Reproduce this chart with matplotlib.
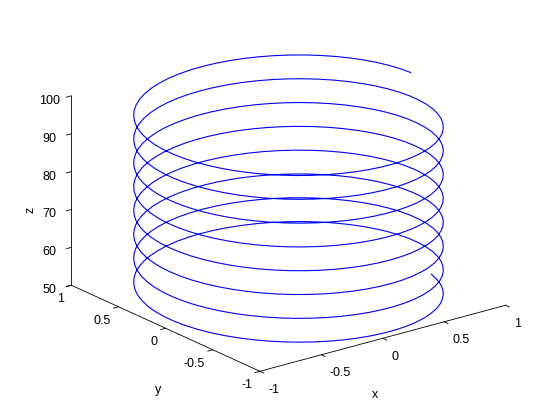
import numpy as np
import matplotlib
matplotlib.use('Agg')
from matplotlib import pyplot as plt

# helix: z runs 50 -> 100, one turn every 2*pi, turning clockwise
z_start, z_end = 50, 100
phase = -0.26  # start angle in rad
z = np.arange(z_start, z_end + 0.001, 0.1)
theta = phase - (z - z_start)
x = np.cos(theta)
y = np.sin(theta)

xticks = [-1, -0.5, 0, 0.5, 1]
yticks = [-1, -0.5, 0, 0.5, 1]
zticks = [50, 60, 70, 80, 90, 100]
tick_text = ['-1', '-0.5', '0', '0.5', '1']

plt.rcParams['font.family'] = 'Liberation Sans'
plt.rcParams['font.size'] = 9

fig = plt.figure(figsize=(5.6, 4.2), dpi=100)
ax = fig.add_axes([0.005, 0.009, 1.0, 1.0], projection='3d')
ax.set_proj_type('ortho')
ax.view_init(elev=20.5, azim=-127.5)
ax.set_box_aspect((1, 1, 0.653), zoom=1.115)

ax.plot(x, y, z, color='#0000ff', lw=0.8)

ax.set_xlim(-1, 1)
ax.set_ylim(-1, 1)
ax.set_zlim(50, 100)
ax.set_xticks(xticks)
ax.set_yticks(yticks)
ax.set_zticks(zticks)
ax.set_xticklabels(tick_text, ha='left')
ax.set_yticklabels(tick_text, ha='right')
ax.grid(False)
for axis in (ax.xaxis, ax.yaxis, ax.zaxis):
    axis.pane.fill = False
    axis.pane.set_edgecolor('w')
    axis.line.set_color('k')
    axis.line.set_linewidth(0.6)
    axis._axinfo['tick']['inward_factor'] = 0.25
    axis._axinfo['tick']['outward_factor'] = 0.0
    axis._axinfo['tick']['linewidth'] = {True: 0.6, False: 0.5}
ax.tick_params(axis='x', pad=-1)
ax.tick_params(axis='y', pad=-3)
ax.tick_params(axis='z', pad=0)

# axis titles placed where MATLAB puts them
fig.text(0.670, 0.060, 'x', ha='center', va='center')
fig.text(0.282, 0.071, 'y', ha='center', va='center')
fig.text(0.054, 0.500, 'z', ha='center', va='center', rotation=90)

fig.savefig('out.png', dpi=100)
